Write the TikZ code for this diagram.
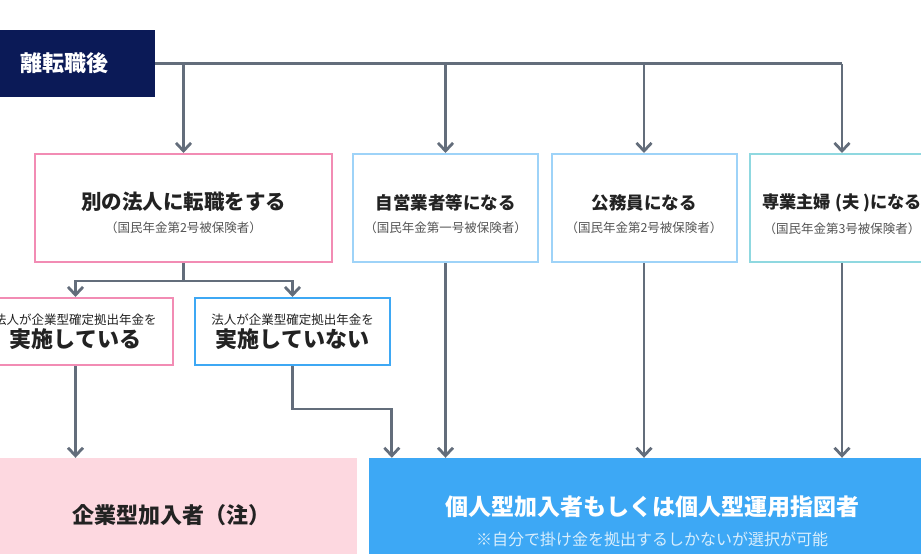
\documentclass[tikz,border=0pt]{standalone}
\usepackage{fontspec}
\setmainfont{Noto Sans CJK JP}
\usetikzlibrary{arrows.meta}
\definecolor{navy}{HTML}{0B1A57}
\definecolor{linegray}{HTML}{636D7B}
\definecolor{pinkline}{HTML}{F28CB4}
\definecolor{skyline}{HTML}{9ED3F8}
\definecolor{tealline}{HTML}{8FD8E0}
\definecolor{blueline}{HTML}{3EA8F4}
\definecolor{pinkfill}{HTML}{FDD8E0}
\definecolor{bluefill}{HTML}{3DA8F5}
\definecolor{ink}{HTML}{222222}
\definecolor{subgray}{HTML}{555555}
\begin{document}
\begin{tikzpicture}[x=1pt, y=-1pt,
    line/.style={draw=linegray, line width=2.8pt},
    arr/.style={line, -{Straight Barb[length=8pt, width=15pt]}},
    card/.style={draw, line width=2pt, fill=white, inner sep=0pt, align=center, text=ink},
    big/.style={card, minimum height=108pt, minimum width=185pt},
    small/.style={card, minimum height=67pt, minimum width=195pt},
    goal/.style={inner sep=0pt, align=center}]
  \useasboundingbox (0,0) rectangle (921,554);
  \clip (0,0) rectangle (921,554);
  % start
  \node[fill=navy, text=white, minimum width=155pt, minimum height=67pt, text width=115pt,
        inner xsep=20pt, align=left, font=\fontsize{22}{22}\selectfont\bfseries]
        (post) at (77.5,63.5) {離転職後};
  % first row
  \node[big, draw=pinkline, minimum width=297pt] (c1) at (183.5,208)
    {\rule{0pt}{27pt}{\fontsize{20.5}{20.5}\selectfont\bfseries 別の法人に転職をする}\\[9pt]
     {\fontsize{12.5}{12.5}\selectfont\color{subgray}（国民年金第2号被保険者）}};
  \node[big, draw=skyline] (c2) at (445.5,208)
    {\rule{0pt}{27pt}{\fontsize{17.5}{17.5}\selectfont\bfseries 自営業者等になる}\\[9pt]
     {\fontsize{12.5}{12.5}\selectfont\color{subgray}（国民年金第一号被保険者）}};
  \node[big, draw=skyline] (c3) at (644,208)
    {\rule{0pt}{27pt}{\fontsize{17.5}{17.5}\selectfont\bfseries 公務員になる}\\[9pt]
     {\fontsize{12.5}{12.5}\selectfont\color{subgray}（国民年金第2号被保険者）}};
  \node[big, draw=tealline] (c4) at (842,208)
    {\rule{0pt}{27pt}{\fontsize{17.2}{17.2}\selectfont\bfseries 専業主婦 (夫 )になる}\\[9pt]
     {\fontsize{12.5}{12.5}\selectfont\color{subgray}（国民年金第3号被保険者）}};
  % second row
  \node[small, draw=pinkline] (b1) at (75.5,331.5)
    {{\fontsize{12.5}{12.5}\selectfont 法人が企業型確定拠出年金を}\\[2pt]
     {\fontsize{22}{22}\selectfont\bfseries 実施している}};
  \node[small, draw=blueline] (b2) at (292.5,331.5)
    {{\fontsize{12.5}{12.5}\selectfont 法人が企業型確定拠出年金を}\\[2pt]
     {\fontsize{22}{22}\selectfont\bfseries 実施していない}};
  % results
  \node[goal, fill=pinkfill, text=ink, minimum width=357pt, minimum height=114pt,
        font=\fontsize{22}{22}\selectfont\bfseries] (corp) at (178.5,515) {企業型加入者（注）\hspace*{14pt}};
  \node[goal, fill=bluefill, text=white, minimum width=566pt, minimum height=126pt] (ind) at (652,521)
    {{\fontsize{23}{23}\selectfont\bfseries 個人型加入者もしくは個人型運用指図者}\\[13pt]
     {\fontsize{16}{16}\selectfont\color{white!80!bluefill}※自分で掛け金を拠出するしかないが選択が可能}};
  % connectors
  \draw[line] (post.east) -- (post.east -| c4.north);
  \draw[arr] (post.east -| c1.north) -- (c1.north);
  \draw[arr] (post.east -| c2.north) -- (c2.north);
  \draw[arr] (post.east -| c3.north) -- (c3.north);
  \draw[arr] (post.east -| c4.north) -- (c4.north);
  \draw[line] (c1.south) -- ++(0,18) coordinate (split);
  \draw[arr] (split) -| (b1.north);
  \draw[arr] (split) -| (b2.north);
  \draw[arr] (b1.south) -- (b1.south |- corp.north);
  \draw[arr] (b2.south) -- ++(0,43) -| ([xshift=23pt]ind.north west);
  \draw[arr] (c2.south) -- (c2.south |- ind.north);
  \draw[arr] (c3.south) -- (c3.south |- ind.north);
  \draw[arr] (c4.south) -- (c4.south |- ind.north);
\end{tikzpicture}
\end{document}
